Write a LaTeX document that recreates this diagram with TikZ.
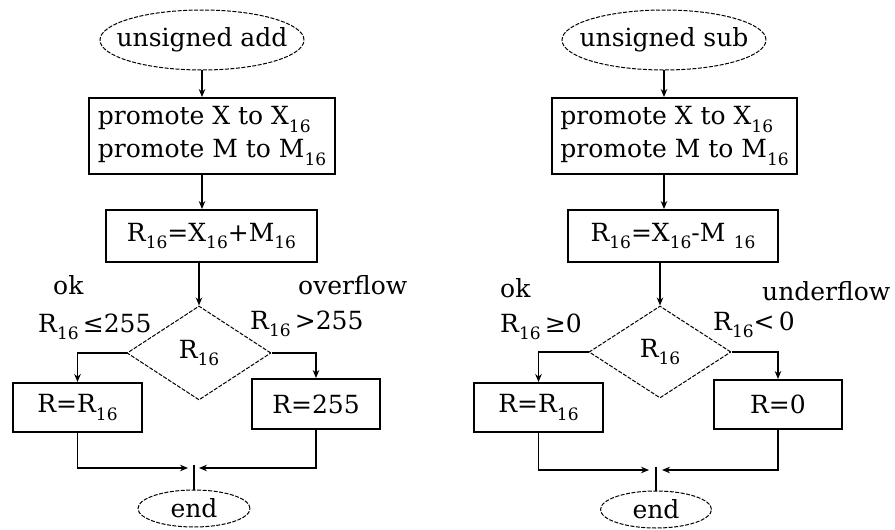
\documentclass[tikz,border=0pt]{standalone}
\usepackage{fontspec}
\setmainfont{DejaVu Serif}
\newcommand\sbx[1]{\raisebox{-0.3em}{\fontsize{17}{17}\selectfont #1}}
\usetikzlibrary{shapes.geometric,arrows.meta}
\tikzset{
  box/.style={draw, line width=1.9pt, inner sep=0pt, align=center},
  term/.style={inner sep=0pt},
  termline/.style={line width=1pt, dash pattern=on 4pt off 1.5pt},
  dec/.style={diamond, draw, line width=1pt, dash pattern=on 4pt off 1.5pt, inner sep=0pt},
  arr/.style={line width=1.7pt, -{Stealth[length=8pt,width=6.5pt]}},
  ln/.style={line width=1.7pt},
  lbl/.style={inner sep=0pt, anchor=base west},
}
\begin{document}
\begin{tikzpicture}[x=1pt,y=-1pt, font=\fontsize{25}{33}\selectfont]
\useasboundingbox (0,0) rectangle (895,530);
% ---------- left: unsigned add ----------
\node[term, minimum width=204pt, minimum height=60pt] (s1) at (202,40) {unsigned add};
\draw[termline] (s1.center) ellipse [x radius=102pt, y radius=30pt];
\node[box, minimum width=246pt, minimum height=76pt, align=left] (b1) at (212,136)
  {promote X to X\sbx{16}\\promote M to M\sbx{16}};
\node[box, minimum width=211pt, minimum height=52pt] (b2) at (211.5,236)
  {R\sbx{16}=X\sbx{16}+M\sbx{16}};
\node[dec, minimum width=144pt, minimum height=94pt] (d1) at (199,353) {R\sbx{16}};
\node[box, minimum width=129pt, minimum height=49pt] (bl1) at (77.5,407.5) {R=R\sbx{16}};
\node[box, minimum width=128pt, minimum height=50pt] (br1) at (316,404) {R=255};
\node[term, minimum width=112pt, minimum height=37pt] (e1) at (194,508.5) {end};
\draw[termline] (e1.center) ellipse [x radius=56pt, y radius=18.5pt];

\draw[arr] (s1.south) -- (s1.south |- b1.north);
\draw[arr] (s1.south |- b1.south) -- (s1.south |- b2.north);
\draw[arr] (d1.north |- b2.south) -- (d1.north);
\draw[arr] (d1.west) -| (bl1.north);
\draw[arr] (d1.east) -| (br1.north);
\coordinate (j1l) at (188,468);
\coordinate (j1r) at (199,468);
\coordinate (j1) at (194,465);
\draw[arr] (bl1.south) |- (j1l);
\draw[arr] (br1.south) |- (j1r);
\draw[ln] (e1.north) -- (j1);

\node[lbl] (ok1) at (53,294) {ok};
\node[lbl] (c1) at (38,332) {R\sbx{16}\,≤255};
\node[lbl] (of1) at (298,294) {overflow};
\node[lbl] (c2) at (250,329) {R\sbx{16}\,>255};

% ---------- right: unsigned sub ----------
\node[term, minimum width=204pt, minimum height=60pt] (s2) at (664,40) {unsigned sub};
\draw[termline] (s2.center) ellipse [x radius=102pt, y radius=30pt];
\node[box, minimum width=245pt, minimum height=76pt, align=left] (b3) at (674.5,136)
  {promote X to X\sbx{16}\\promote M to M\sbx{16}};
\node[box, minimum width=210pt, minimum height=52pt] (b4) at (673,236)
  {R\sbx{16}=X\sbx{16}-M\,\,\sbx{16}};
\node[dec, minimum width=142pt, minimum height=92pt] (d2) at (660,352) {R\sbx{16}};
\node[box, minimum width=129pt, minimum height=49pt] (bl2) at (538.5,407.5) {R=R\sbx{16}};
\node[box, minimum width=128pt, minimum height=49pt] (br2) at (778,404.5) {R=0};
\node[term, minimum width=111pt, minimum height=37pt] (e2) at (656,509.5) {end};
\draw[termline] (e2.center) ellipse [x radius=55.5pt, y radius=18.5pt];

\draw[arr] (s2.south) -- (s2.south |- b3.north);
\draw[arr] (s2.south |- b3.south) -- (s2.south |- b4.north);
\draw[arr] (d2.north |- b4.south) -- (d2.north);
\draw[arr] (d2.west) -| (bl2.north);
\draw[arr] (d2.east) -| (br2.north);
\coordinate (j2l) at (649,470);
\coordinate (j2r) at (662,470);
\coordinate (j2) at (656,467);
\draw[arr] (bl2.south) |- (j2l);
\draw[arr] (br2.south) |- (j2r);
\draw[ln] (e2.north) -- (j2);

\node[lbl] (ok2) at (500,297) {ok};
\node[lbl] (c3) at (500,332) {R\sbx{16}\,≥0};
\node[lbl] (uf2) at (762,300) {underflow};
\node[lbl] (c4) at (713,330) {R\sbx{16}<\,0};
\end{tikzpicture}
\end{document}
